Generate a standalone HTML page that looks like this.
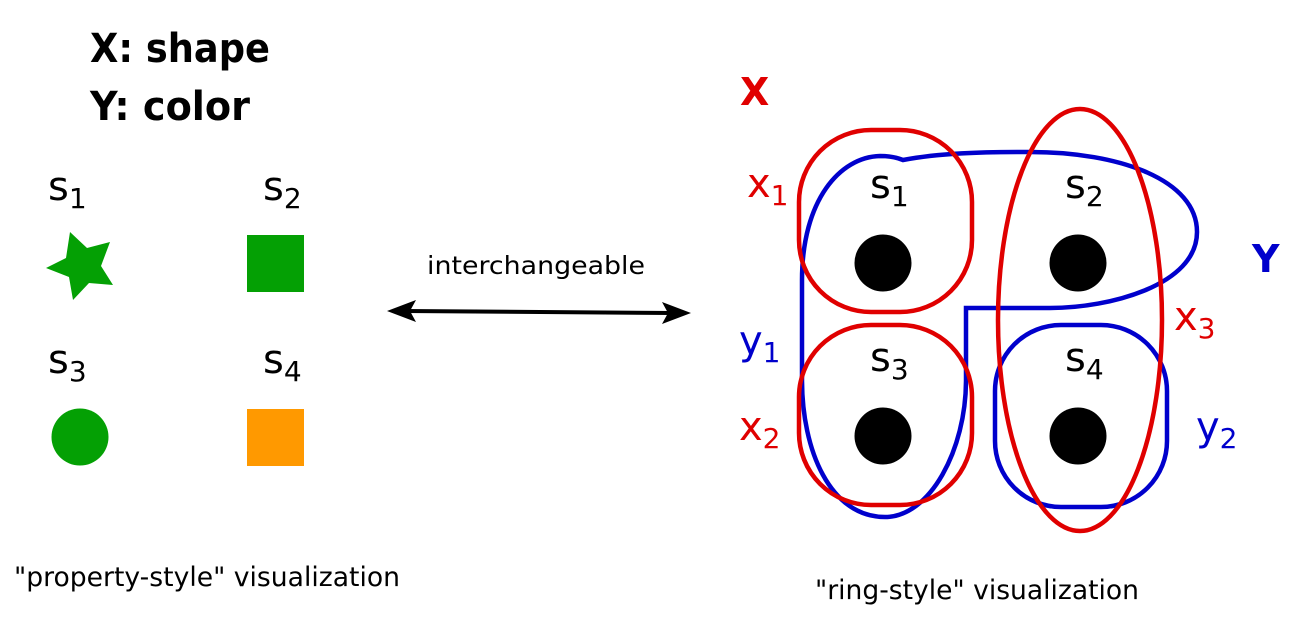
<!DOCTYPE html>
<html><head><meta charset="utf-8"><style>
html,body{margin:0;padding:0;background:#fff;}
svg{display:block;}
text{font-family:"DejaVu Sans","Liberation Sans",sans-serif;}
</style></head><body>
<svg width="1299" height="620" viewBox="0 0 1299 620" xmlns="http://www.w3.org/2000/svg">
<text x="90" y="62" font-size="40" font-weight="bold" textLength="180" lengthAdjust="spacingAndGlyphs">X: shape</text>
<text x="90" y="120" font-size="40" font-weight="bold" textLength="160" lengthAdjust="spacingAndGlyphs">Y: color</text>
<g font-size="40" fill="#000">
<text x="48" y="200">s<tspan font-size="28" dy="8">1</tspan></text>
<text x="263" y="200">s<tspan font-size="28" dy="8">2</tspan></text>
<text x="48" y="373">s<tspan font-size="28" dy="8">3</tspan></text>
<text x="263" y="373">s<tspan font-size="28" dy="8">4</tspan></text>
</g>
<polygon points="70,232 87,248 110,242 101,266 113,285 89,283 73,300 69,277 46,268 66,258" fill="#04a004"/>
<rect x="247" y="235" width="57" height="57" fill="#04a004"/>
<circle cx="80" cy="437" r="28.5" fill="#04a004"/>
<rect x="247" y="409" width="57" height="57" fill="#ff9900"/>
<text x="427" y="274" font-size="25" textLength="218" lengthAdjust="spacingAndGlyphs">interchangeable</text>
<line x1="405" y1="311" x2="672" y2="313" stroke="#000" stroke-width="4"/>
<polygon points="387,311 416,300 410,311 416,322" fill="#000"/>
<polygon points="691,313 662,302 668,313 662,324" fill="#000"/>
<text x="14" y="586" font-size="27" textLength="386" lengthAdjust="spacingAndGlyphs">"property-style" visualization</text>
<text x="815" y="599" font-size="27" textLength="324" lengthAdjust="spacingAndGlyphs">"ring-style" visualization</text>

<text x="740" y="105" font-size="38" font-weight="bold" fill="#e00000">X</text>
<text x="1252" y="272" font-size="38" font-weight="bold" fill="#0000cc">Y</text>
<g font-size="40">
<text x="747" y="197" fill="#e00000">x<tspan font-size="28" dy="8">1</tspan></text>
<text x="739" y="354" fill="#0000cc">y<tspan font-size="28" dy="8">1</tspan></text>
<text x="739" y="440" fill="#e00000">x<tspan font-size="28" dy="8">2</tspan></text>
<text x="1174" y="330" fill="#e00000">x<tspan font-size="28" dy="8">3</tspan></text>
<text x="1196" y="440" fill="#0000cc">y<tspan font-size="28" dy="8">2</tspan></text>
<text x="870" y="198" fill="#000">s<tspan font-size="28" dy="8">1</tspan></text>
<text x="1065" y="198" fill="#000">s<tspan font-size="28" dy="8">2</tspan></text>
<text x="870" y="371" fill="#000">s<tspan font-size="28" dy="8">3</tspan></text>
<text x="1065" y="371" fill="#000">s<tspan font-size="28" dy="8">4</tspan></text>
</g>
<g fill="#000">
<circle cx="883" cy="263" r="28.5"/><circle cx="1078" cy="263" r="28.5"/>
<circle cx="883" cy="436" r="28.5"/><circle cx="1078" cy="436" r="28.5"/>
</g>
<g fill="none" stroke-width="4.5">
<path stroke="#0000cc" d="M903,160 C940,153 980,152 1030,152 C1120,152 1197,180 1197,232 C1197,285 1110,308 1050,308 L966,308 L966,380 C966,450 930,517 885,517 C830,517 802,450 802,380 L802,280 C802,200 840,157 880,156 C892,156 898,158 903,160 Z"/>
<rect x="995" y="325" width="172" height="182" rx="66" stroke="#0000cc"/>
<rect x="799" y="130" width="173" height="182" rx="72" stroke="#e00000"/>
<rect x="799" y="325" width="173" height="180" rx="72" stroke="#e00000"/>
<ellipse cx="1080" cy="320" rx="82" ry="211" stroke="#e00000"/>
</g>
</svg>
</body></html>
